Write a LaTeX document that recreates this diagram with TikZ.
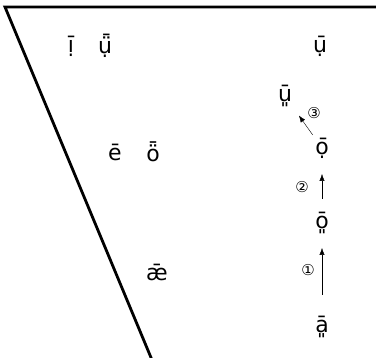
\documentclass[tikz,border=0pt]{standalone}
\usepackage{fontspec}
\setmainfont{DejaVu Sans}
\usetikzlibrary{arrows.meta}

\begin{document}
\begin{tikzpicture}[x=1pt, y=-1pt, every node/.style={font=\fontsize{22}{25}\selectfont, inner sep=0pt}, >={Latex[length=2.4mm, width=1.8mm]},
	num/.style={font=\fontsize{15}{17}\selectfont}]
	\useasboundingbox (0,0) rectangle (376,358);
	\draw[line width=2.8pt] (376,7) -- (5,7) -- (152,360);
	\node (ihi) at (71,46) {ị̄};
	\node (uhi) at (105,46) {ụ̈̄};
	\node (uclose) at (320,46) {ụ̄};
	\node (ulow) at (285,96) {ū͈};
	\node (emid) at (115,152) {ē};
	\node (omid) at (153,152) {ȫ};
	\node (oclose) at (322,148) {ọ̄};
	\node (olow) at (322,223) {ō͈};
	\node (ae) at (157,272) {ǣ};
	\node (alow) at (322,327) {ā͈};
	\node[num] (n1) at (308,270) {①};
	\node[num] (n2) at (302,187) {②};
	\node[num] (n3) at (314,113) {③};
	\draw[->, shorten <=32pt, shorten >=25pt] (alow.center) -- (olow.center);
	\draw[->, shorten <=24pt, shorten >=26pt] (olow.center) -- (oclose.center);
	\draw[->, shorten <=16pt, shorten >=24pt] (oclose.center) -- (ulow.center);
\end{tikzpicture}
\end{document}
